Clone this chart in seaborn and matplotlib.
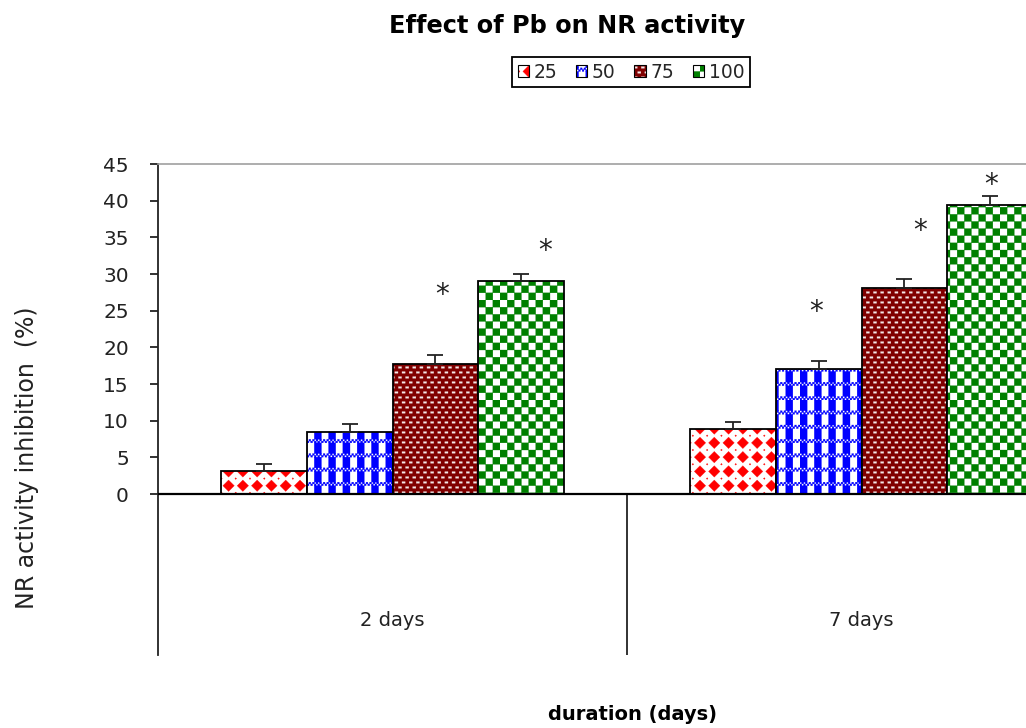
import numpy as np
import pandas as pd
import matplotlib
matplotlib.use("Agg")
import matplotlib.pyplot as plt
import matplotlib.hatch as mhatch
import matplotlib.patches as mpatches
from matplotlib.colors import to_rgba
from matplotlib.path import Path
import seaborn as sns

# ---------------- data ----------------
durations = ["2 days", "7 days"]
concentrations = ["25", "50", "75", "100"]
inhib_2days = [3.1, 8.4, 17.7, 29.0]
inhib_7days = [8.9, 17.0, 28.1, 39.4]
err_2days = [0.95, 1.2, 1.2, 0.95]
err_7days = [0.9, 1.2, 1.2, 1.2]

# significance markers: (duration, concentration, height of asterisk)
star_duration = ["2 days", "2 days", "7 days", "7 days", "7 days"]
star_conc = ["75", "100", "50", "75", "100"]
star_y = [27.1, 33.1, 24.8, 35.8, 42.1]
star_dx = [0.015, 0.051, -0.005, 0.034, 0.002]

title = "Effect of Pb on NR activity"
ylabel = "NR activity inhibition  (%)"
xlabel = "duration (days)"
yticks = [0, 5, 10, 15, 20, 25, 30, 35, 40, 45]

# ---------------- custom fill patterns ----------------
def _rect(x0, y0, w, h):
    return [(x0, y0), (x0 + w, y0), (x0 + w, y0 + h), (x0, y0 + h), (x0, y0)]

def _diamond(cx, cy, r):
    return [(cx, cy - r), (cx + r, cy), (cx, cy + r), (cx - r, cy), (cx, cy - r)]

def diamonds_polys():
    n = 7
    s = 1.0 / n
    polys = []
    for i in range(n + 1):
        for j in range(n + 1):
            polys.append(_diamond(i * s, j * s, 0.40 * s))
    for i in range(n):
        for j in range(n):
            polys.append(_diamond((i + 0.5) * s, (j + 0.5) * s, 0.06 * s))
    return polys

def gingham_polys():
    n = 7
    s = 1.0 / n
    band = 0.25 * s
    polys = []
    for j in range(n):
        y0 = j * s
        for i in range(n):
            polys.append(_rect(i * s, y0 + band, 0.5 * s, s - band))
        k = 56
        for m in range(k):
            for r in range(2):
                if (m + r) % 2 == 0:
                    polys.append(_rect(m / k, y0 + r * band / 2, 1.0 / k, band / 2))
    return polys

def bricks_polys():
    nc, nr = 14, 20
    cw, rh = 1.0 / nc, 1.0 / nr
    polys = []
    for r in range(nr):
        off = 0.5 * cw if r % 2 else 0.0
        for c in range(nc + 1):
            polys.append(_rect(c * cw + off - 0.22 * cw, r * rh + 0.35 * rh, 0.44 * cw, 0.32 * rh))
    return polys

def checker_polys():
    m = 14
    s = 1.0 / m
    return [_rect(i * s, j * s, s, s) for i in range(m) for j in range(m) if (i + j) % 2 == 0]

class TileHatch(mhatch.HatchPatternBase):
    char = None
    builder = None

    def __init__(self, hatch, density):
        if hatch.count(self.char) > 0:
            self.polys = self.builder()
            self.num_vertices = sum(len(p) for p in self.polys)
        else:
            self.polys = []
            self.num_vertices = 0

    def set_vertices_and_codes(self, vertices, codes):
        k = 0
        for p in self.polys:
            n = len(p)
            vertices[k:k + n] = p
            codes[k] = Path.MOVETO
            codes[k + 1:k + n - 1] = Path.LINETO
            codes[k + n - 1] = Path.CLOSEPOLY
            k += n

def _make(ch, fn):
    return type("Tile_" + fn.__name__, (TileHatch,), {"char": ch, "builder": staticmethod(fn)})

mhatch._hatch_types[:] = [_make("O", diamonds_polys), _make("o", gingham_polys),
                          _make(".", bricks_polys), _make("*", checker_polys)]

face_colors = ["white", "white", "#800000", "white"]
hatch_colors = ["#FF0000", "#0000FF", "#F4E8E8", "#008000"]
hatches = ["O", "o", ".", "*"]

# ---------------- figure ----------------
sns.set_theme(style="white")
plt.rcParams["font.family"] = ["DejaVu Sans"]
plt.rcParams["hatch.linewidth"] = 0.2

df = pd.DataFrame({
    "duration": np.repeat(durations, len(concentrations)),
    "conc": concentrations * len(durations),
    "value": inhib_2days + inhib_7days,
})
errs = {("2 days", c): e for c, e in zip(concentrations, err_2days)}
errs.update({("7 days", c): e for c, e in zip(concentrations, err_7days)})

W, H = 1026, 728
fig = plt.figure(figsize=(W / 100, H / 100), dpi=100)
ax = fig.add_axes([158 / W, 1 - 655 / H, (1096 - 158) / W, (655 - 164) / H])

sns.barplot(data=df, x="duration", y="value", hue="conc", order=durations,
            hue_order=concentrations, palette=dict(zip(concentrations, face_colors)),
            saturation=1, width=0.73, errorbar=None, edgecolor="black",
            linewidth=1.3, legend=False, ax=ax)

def _set_hatch(p, h, c):
    p.set_hatch(h)
    if hasattr(p, "set_hatchcolor"):
        p.set_hatchcolor(c)
    else:
        p._hatch_color = to_rgba(c)

centers = {}
for ci, cont in enumerate(ax.containers):
    for di, bar in enumerate(cont):
        bar.set_facecolor(face_colors[ci])
        bar.set_edgecolor("black")
        _set_hatch(bar, hatches[ci], hatch_colors[ci])
        cx = bar.get_x() + bar.get_width() / 2
        centers[(durations[di], concentrations[ci])] = (cx, bar.get_height())

# error bars (upper only)
xs, ys, es = [], [], []
for key, (cx, h) in centers.items():
    xs.append(cx); ys.append(h); es.append(errs[key])
ax.errorbar(xs, ys, yerr=[np.zeros(len(es)), es], fmt="none", ecolor="#222222",
            elinewidth=1.3, capsize=6, capthick=1.3, zorder=1)

# asterisks
for d, c, y, dx in zip(star_duration, star_conc, star_y, star_dx):
    ax.text(centers[(d, c)][0] + dx, y, "*", ha="center", va="center",
            fontsize=20, color="#222222")

ymin = -(655 - 494) / (330 / 45)
ax.set_ylim(ymin, 45)
ax.set_xlim(-0.5, 1.5)
ax.set_xlabel("")
ax.set_ylabel("")
ax.set_xticks([])
ax.set_yticks(yticks)
ax.set_yticklabels([str(t) for t in yticks], fontsize=14.5, color="#222222")
ax.tick_params(axis="y", which="both", left=True, length=6, width=1.3,
               pad=15, colors="#222222", labelcolor="#222222", direction="out")

for side in ["right", "bottom"]:
    ax.spines[side].set_visible(False)
ax.spines["left"].set_color("#222222")
ax.spines["left"].set_linewidth(1.3)
ax.spines["top"].set_color("#A0A0A0")
ax.spines["top"].set_linewidth(1.2)

zero_frac = (0 - ymin) / (45 - ymin)
ax.axhline(0, color="black", lw=1.6, zorder=3)
ax.axvline(0.5, ymin=0, ymax=zero_frac, color="#222222", lw=1.3)

for i, d in enumerate(durations):
    ax.text(i, -17.2, d, ha="center", va="center", fontsize=14, color="#222222")

fig.text(567 / W, 1 - 26 / H, title, ha="center", va="center",
         fontsize=17.3, fontweight="bold", color="black")
fig.text(632 / W, 1 - 714 / H, xlabel, ha="center", va="center",
         fontsize=14, fontweight="bold", color="black")
fig.text(27 / W, 1 - 458 / H, ylabel, ha="center", va="center", rotation=90,
         fontsize=17, color="#222222")

handles = []
for ci, c in enumerate(concentrations):
    p = mpatches.Patch(facecolor=face_colors[ci], edgecolor="black", linewidth=0.8,
                       label=c)
    _set_hatch(p, hatches[ci], hatch_colors[ci])
    handles.append(p)
leg = fig.legend(handles=handles, loc="center", bbox_to_anchor=(631 / W, 1 - 72 / H),
                 ncol=4, fontsize=13.5, handlelength=0.6, handleheight=0.6,
                 handletextpad=0.25, columnspacing=1.0, borderpad=0.3,
                 fancybox=False, framealpha=1, edgecolor="black")
leg.get_frame().set_linewidth(1.3)

fig.savefig("out.png", dpi=100)
